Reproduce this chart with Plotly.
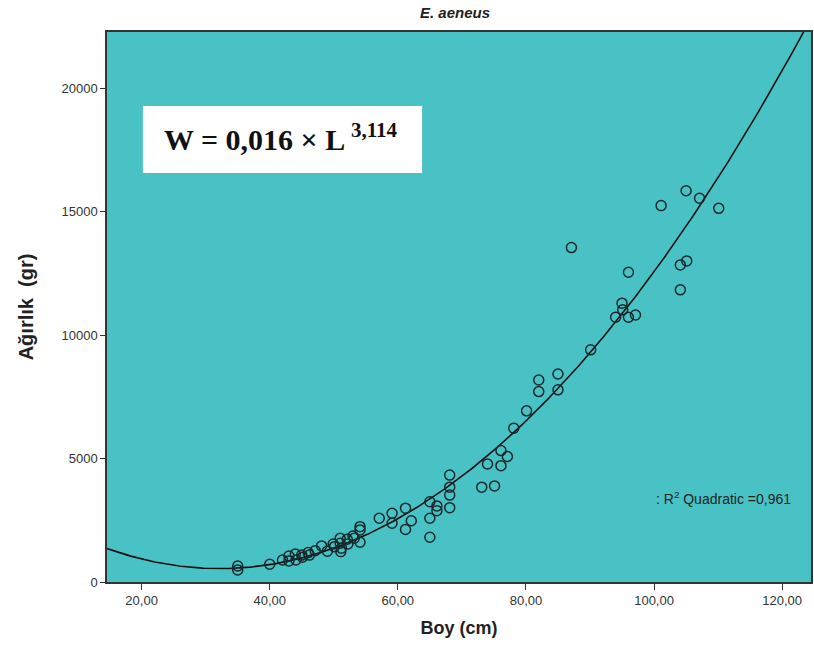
import numpy as np
import plotly.graph_objects as go

# Length (cm) and weight (g) of E. aeneus specimens
boy = [35.0, 35.0, 40.0, 42.0, 43.0, 43.0, 44.0, 44.1, 45.0, 45.1, 46.0, 46.2, 47.1, 48.1,
       49.0, 49.9, 50.1, 51.0, 51.0, 51.1, 51.2, 52.1, 52.2, 53.0, 53.2, 54.1, 54.1, 54.1,
       57.1, 59.1, 59.1, 61.2, 61.2, 62.1, 65.0, 65.0, 65.0, 66.1, 66.1, 68.1, 68.1, 68.1,
       68.1, 73.1, 74.0, 75.1, 76.1, 76.1, 77.1, 78.1, 80.1, 82.0, 82.0, 85.0, 85.0, 87.1,
       90.1, 94.0, 95.0, 95.1, 96.0, 96.0, 97.1, 101.1, 104.1, 104.1, 105.0, 105.1, 107.1,
       110.1]
agirlik = [650, 490, 720, 890, 1050, 850, 1130, 890, 1090, 1000, 1190, 1090, 1270, 1460,
           1250, 1540, 1430, 1770, 1570, 1230, 1370, 1730, 1540, 1860, 1770, 2240, 2110, 1610,
           2580, 2780, 2380, 2990, 2130, 2480, 3250, 2580, 1810, 3080, 2890, 4330, 3840, 3520,
           3010, 3840, 4780, 3890, 5320, 4710, 5080, 6230, 6930, 8180, 7710, 8420, 7780, 13540,
           9400, 10720, 11290, 11020, 12540, 10720, 10810, 15240, 12840, 11830, 15840, 13000,
           15540, 15130]

x_ticks = [20, 40, 60, 80, 100, 120]
x_tick_text = ["20,00", "40,00", "60,00", "80,00", "100,00", "120,00"]
y_ticks = [0, 5000, 10000, 15000, 20000]

x_range = [14.6, 124.5]
y_range = [0, 22270]

# quadratic least-squares fit of weight on length
coef = np.polyfit(boy, agirlik, 2)
xf = np.linspace(x_range[0], x_range[1], 400)
yf = np.polyval(coef, xf)

teal = "#48C2C5"
cond = "Liberation Sans Narrow, Arial Narrow, Liberation Sans, Arial, sans-serif"

fig = go.Figure()
fig.add_trace(go.Scatter(x=xf, y=yf, mode="lines",
                         line=dict(color="#111111", width=1.6),
                         hoverinfo="skip", showlegend=False))
fig.add_trace(go.Scatter(x=boy, y=agirlik, mode="markers",
                         marker=dict(symbol="circle-open", size=10,
                                     color="#162a2c",
                                     line=dict(width=1.5, color="#162a2c")),
                         showlegend=False))

fig.update_layout(
    width=814, height=651,
    margin=dict(l=107, r=1, t=32, b=69),
    paper_bgcolor="white", plot_bgcolor=teal,
    title=dict(text="<b><i>E. aeneus</i></b>", x=0.559, xanchor="center",
               y=0.981, yanchor="middle",
               font=dict(family=cond, size=15, color="#222222")),
    xaxis=dict(range=x_range, tickvals=x_ticks, ticktext=x_tick_text,
               showgrid=False, zeroline=False, ticks="outside", ticklen=6,
               tickcolor="#333333", showline=True, linecolor="#333333",
               linewidth=1.5, mirror=True,
               tickfont=dict(family=cond, size=13, color="#333333"),
               title=dict(text="<b>Boy (cm)</b>", standoff=14,
                          font=dict(family=cond, size=18, color="#222222"))),
    yaxis=dict(range=y_range, tickvals=y_ticks, tickformat="d",
               showgrid=False, zeroline=False, ticks="outside", ticklen=5,
               tickcolor="#333333", showline=True, linecolor="#333333",
               linewidth=1.5, mirror=True,
               tickfont=dict(family=cond, size=13, color="#333333"),
               title=dict(text="<b>Ağırlık  (gr)</b>", standoff=22,
                          font=dict(family=cond, size=20, color="#222222"))),
)

# equation box
fig.add_shape(type="rect", xref="paper", yref="paper",
              x0=(143 - 107) / 706, x1=(423 - 107) / 706,
              y0=(582 - 173) / 550, y1=(582 - 106) / 550,
              fillcolor="white", line=dict(width=0), layer="above")
fig.add_annotation(xref="paper", yref="paper",
                   x=(281 - 107) / 706, y=(582 - 137) / 550,
                   text="<b>W = 0,016 × L <sup>3,114</sup></b>",
                   showarrow=False, xanchor="center", yanchor="middle",
                   font=dict(family="Liberation Serif, Times New Roman, serif",
                             size=30, color="#111111"))
fig.add_annotation(xref="paper", yref="paper",
                   x=(656 - 107) / 706, y=(582 - 498) / 550,
                   text=": R<sup>2</sup> Quadratic =0,961",
                   showarrow=False, xanchor="left", yanchor="middle",
                   font=dict(family="Liberation Sans, Arial, sans-serif",
                             size=14, color="#222222"))

fig.write_html("out.html")
